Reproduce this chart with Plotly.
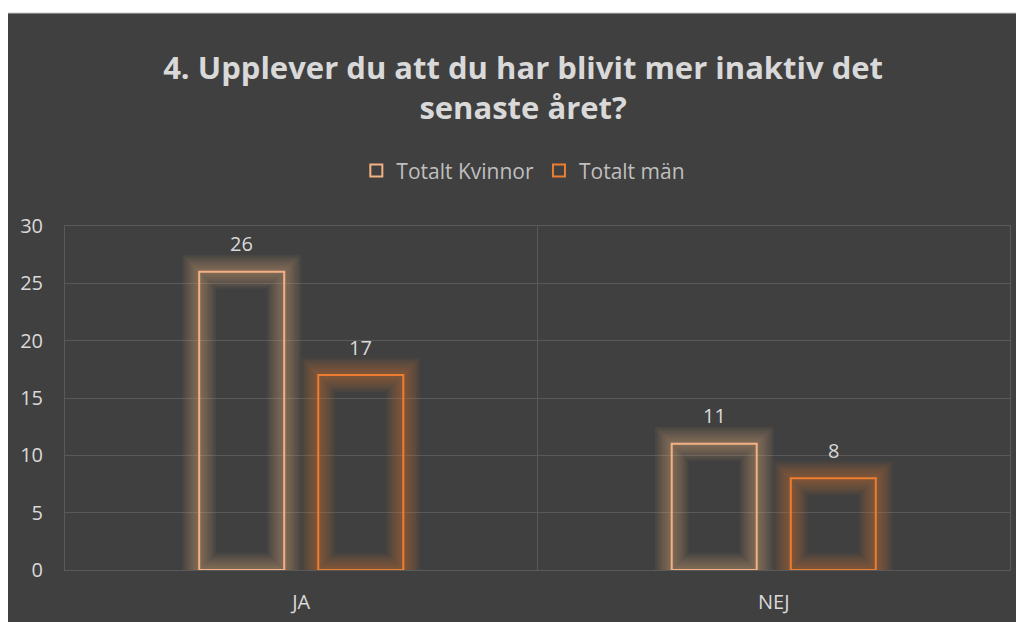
import plotly.graph_objects as go

# --- data ---
categories = ["JA", "NEJ"]
kvinnor = [26, 11]
man = [17, 8]
series_names = ["Totalt Kvinnor", "Totalt män"]

# --- styles ---
bg = "#404040"
grid = "#595959"
text_col = "#D9D9D9"
col_k = (244, 177, 131)
col_m = (237, 125, 49)
font_family = "Open Sans"

W, H = 1016, 614
margin = dict(l=57, r=14, t=218, b=52)
bargap, bargroupgap = 0.496, 0.286


def rgba(c, a):
    return f"rgba({c[0]},{c[1]},{c[2]},{a})"


fig = go.Figure()

# soft glow around each bar, stacked semi transparent outlines
glow_widths = (34, 30, 26, 22, 18, 14, 10, 6)
for vals, col, grp in [(kvinnor, col_k, "k"), (man, col_m, "m")]:
    for w in glow_widths:
        fig.add_trace(go.Bar(
            x=categories, y=vals, offsetgroup=grp, showlegend=False,
            hoverinfo="skip",
            marker=dict(color="rgba(0,0,0,0)", line=dict(color=rgba(col, 0.055), width=w)),
        ))

# the actual bars (outline only)
for name, vals, col, grp in [(series_names[0], kvinnor, col_k, "k"),
                             (series_names[1], man, col_m, "m")]:
    fig.add_trace(go.Bar(
        x=categories, y=vals, name=name, offsetgroup=grp,
        marker=dict(color="rgba(0,0,0,0)", line=dict(color=rgba(col, 1), width=2)),
    ))

# data labels above the glow (pixel offset of each bar within its group)
plot_w = W - margin["l"] - margin["r"]
slot = plot_w / len(categories) * (1 - bargap) / 2
annotations = []
for vals, sign in [(kvinnor, -1), (man, 1)]:
    for cat, v in zip(categories, vals):
        annotations.append(dict(
            x=cat, y=v, xref="x", yref="y", text=str(v), showarrow=False,
            xshift=sign * slot / 2, yshift=28, yanchor="middle",
            font=dict(size=20, color=text_col, family=font_family),
        ))

fig.update_layout(
    width=W, height=H,
    barmode="group", bargap=bargap, bargroupgap=bargroupgap,
    paper_bgcolor="white", plot_bgcolor="rgba(0,0,0,0)",
    margin=margin,
    font=dict(family=font_family, color=text_col, size=20),
    title=dict(
        text="<b>4. Upplever du att du har blivit mer inaktiv det<br>senaste året?</b>",
        x=0.507, xanchor="center", y=0.885, yanchor="middle",
        font=dict(size=31, color=text_col, family=font_family),
    ),
    legend=dict(
        orientation="h", x=0.485, xanchor="center", y=1.16, yanchor="middle",
        font=dict(size=21, color="#BFBFBF"), bgcolor="rgba(0,0,0,0)",
        itemclick=False,
    ),
    annotations=annotations,
    shapes=[dict(
        type="rect", xref="paper", yref="paper", layer="below",
        x0=-0.07, x1=1.1, y0=-0.2, y1=1 + 213 / 344,
        fillcolor=bg, line=dict(color="#C8C8C8", width=1),
    )],
)

fig.update_yaxes(
    range=[0, 30], dtick=5, showgrid=True, gridcolor=grid, gridwidth=1,
    zeroline=False, showline=True, linecolor=grid, mirror=True,
    ticks="", ticklabelstandoff=17, automargin=False,
    tickfont=dict(size=20, color=text_col),
)
fig.update_xaxes(
    tickson="boundaries", showgrid=True, gridcolor=grid, gridwidth=1,
    showline=True, linecolor=grid, mirror=True, ticks="", ticklabelstandoff=14,
    automargin=False,
    tickfont=dict(size=20, color=text_col),
)

fig.write_html("out.html")
